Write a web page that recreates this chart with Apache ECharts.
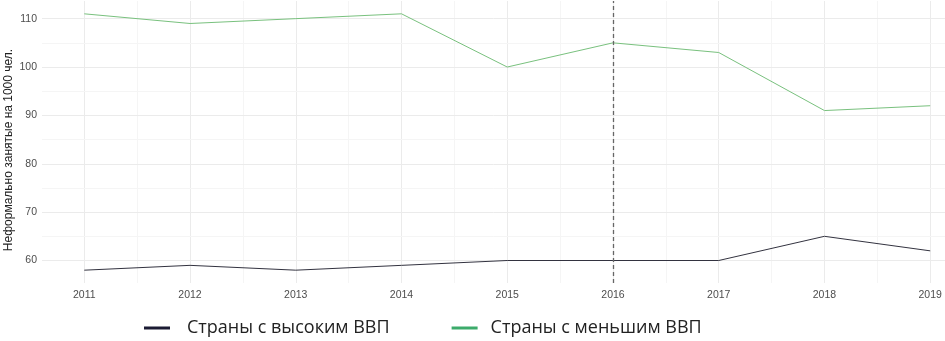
<!DOCTYPE html>
<html>
<head>
<meta charset="utf-8">
<script src="https://cdn.jsdelivr.net/npm/echarts@6/dist/echarts.min.js"></script>
<style>html,body{margin:0;padding:0;background:#fff;}#c{width:945px;height:341px;}</style>
</head>
<body>
<div id="c"></div>
<script>
var years = [2011, 2012, 2013, 2014, 2015, 2016, 2017, 2018, 2019];
var highGdp = [58, 59, 58, 59, 60, 60, 60, 65, 62];
var lowGdp = [111, 109, 110, 111, 100, 105, 103, 91, 92];
var yTicks = [60, 70, 80, 90, 100, 110];
var xMinor = [2011.5, 2012.5, 2013.5, 2014.5, 2015.5, 2016.5, 2017.5, 2018.5];
var yMinor = [65, 75, 85, 95, 105];
var markerYear = 2016;
var nameHigh = 'Страны с высоким ВВП';
var nameLow = 'Страны с меньшим ВВП';
var yTitle = 'Неформально занятые на 1000 чел.';

var gridMajor = '#ebebeb', gridMinor = '#f5f5f5';
var gridLines = [];
years.forEach(function(v){ gridLines.push({xAxis: v, lineStyle: {color: gridMajor, width: 1, type: 'solid'}}); });
xMinor.forEach(function(v){ gridLines.push({xAxis: v, lineStyle: {color: gridMinor, width: 1, type: 'solid'}}); });
yTicks.forEach(function(v){ gridLines.push({yAxis: v, lineStyle: {color: gridMajor, width: 1, type: 'solid'}}); });
yMinor.forEach(function(v){ gridLines.push({yAxis: v, lineStyle: {color: gridMinor, width: 1, type: 'solid'}}); });

function pairs(arr){ return years.map(function(y, i){ return [y, arr[i]]; }); }

var chart = echarts.init(document.getElementById('c'), null, {renderer: 'canvas'});
chart.setOption({
  animation: false,
  backgroundColor: '#ffffff',
  grid: {left: 42, right: 0, top: 1, bottom: 58, containLabel: false, outerBoundsMode: 'none'},
  graphic: [{
    type: 'text', x: 9, y: 150, rotation: Math.PI / 2, silent: true,
    style: {text: yTitle, font: '12px "Liberation Sans"', fill: '#222', align: 'center', verticalAlign: 'middle'}
  }],
  legend: {
    data: [
      {name: nameHigh},
      {name: nameLow, textStyle: {padding: [0, 0, 0, 8]}}
    ],
    left: 144, top: 317, padding: 0,
    icon: 'rect', itemWidth: 26, itemHeight: 3, itemGap: 62,
    textStyle: {fontFamily: 'Open Sans', fontSize: 18, lineHeight: 22, color: '#222', padding: [0, 0, 0, 12]}
  },
  xAxis: {
    type: 'value', min: 2010.6, max: 2019.14,
    axisLine: {show: false}, axisTick: {show: false}, splitLine: {show: false},
    axisLabel: {customValues: years, margin: 7, color: '#4d4d4d', fontSize: 10.5, fontFamily: 'Liberation Sans',
      formatter: function(v){ return String(v); }}
  },
  yAxis: {
    type: 'value', min: 55.35, max: 113.65,
    axisLine: {show: false}, axisTick: {show: false}, splitLine: {show: false},
    axisLabel: {customValues: yTicks, margin: 5, color: '#4d4d4d', fontSize: 10.5, fontFamily: 'Liberation Sans'}
  },
  series: [
    {
      type: 'line', name: '__grid', data: [], z: 0, silent: true,
      markLine: {z: 0, silent: true, symbol: 'none', label: {show: false}, animation: false, data: gridLines}
    },
    {
      type: 'line', name: nameHigh, data: pairs(highGdp), showSymbol: false, z: 4,
      itemStyle: {color: '#1b1b33'}, lineStyle: {color: '#333340', width: 1}
    },
    {
      type: 'line', name: nameLow, data: pairs(lowGdp), showSymbol: false, z: 4,
      itemStyle: {color: '#3cab6b'}, lineStyle: {color: '#79c17e', width: 1},
      markLine: {z: 5, silent: true, symbol: 'none', label: {show: false}, animation: false,
        data: [{xAxis: markerYear, lineStyle: {color: '#666', width: 1.3, type: [4, 3]}}]}
    }
  ]
});
</script>
</body>
</html>
